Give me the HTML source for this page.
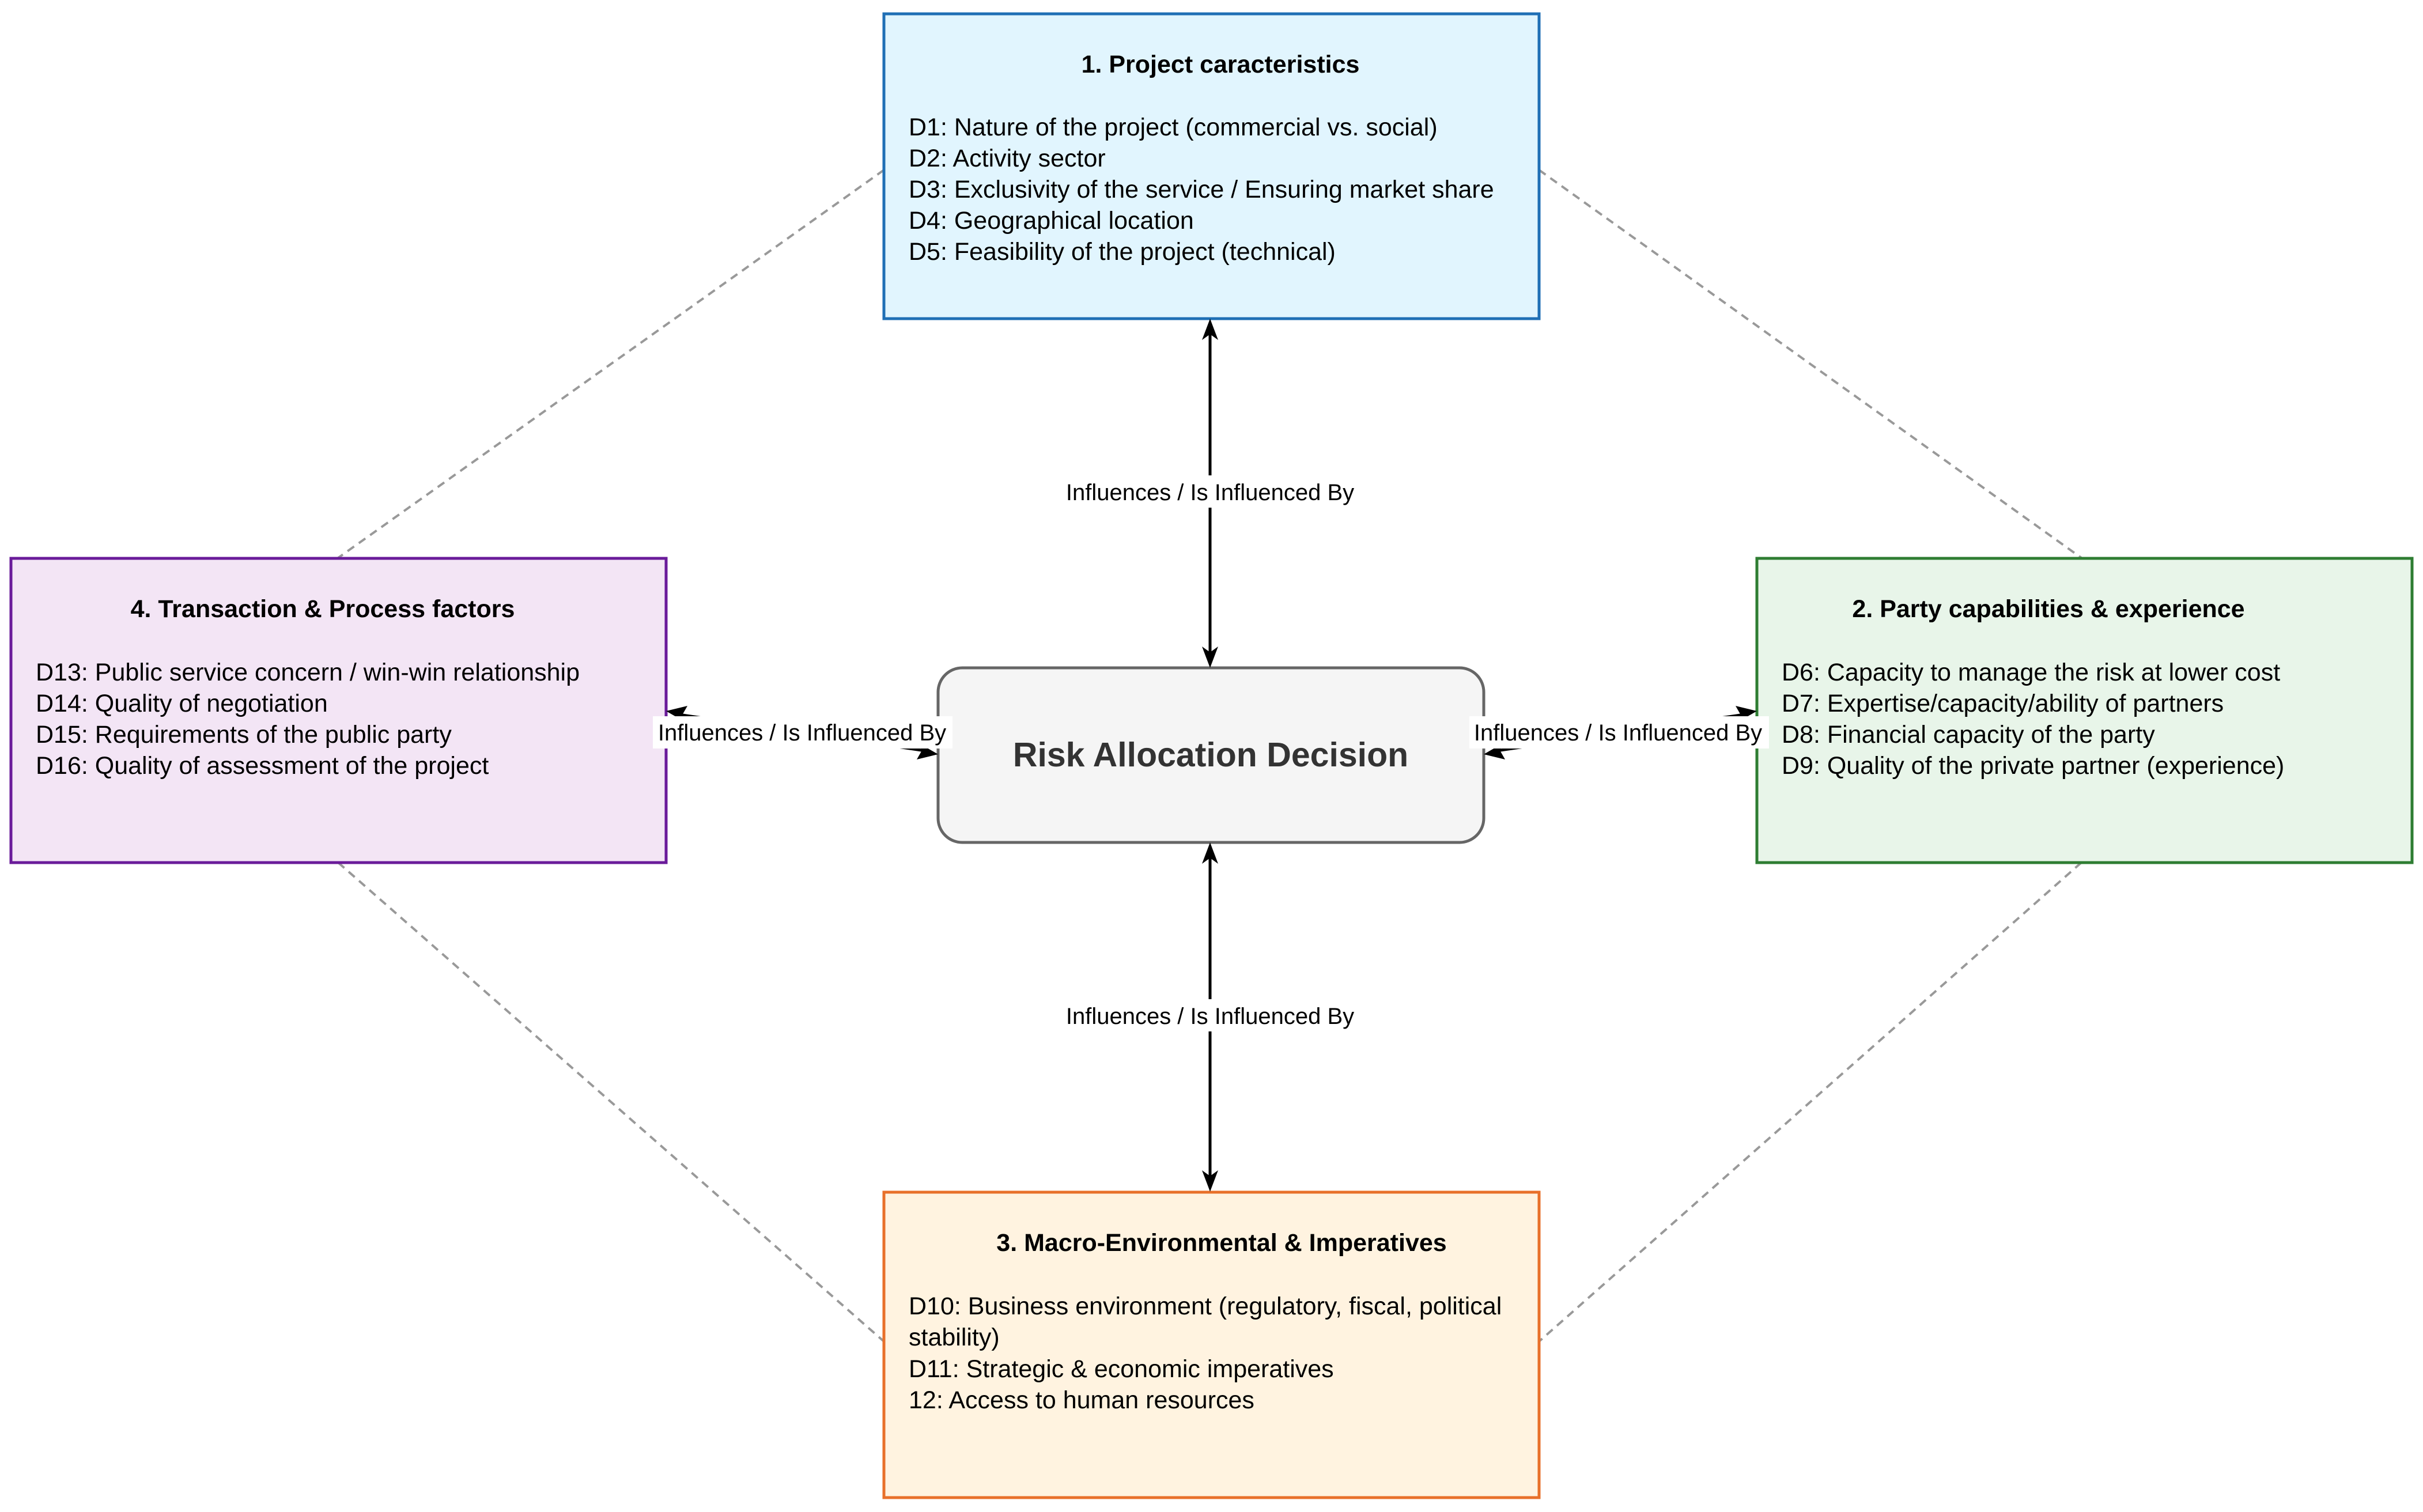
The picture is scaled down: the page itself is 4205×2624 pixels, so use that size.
<!DOCTYPE html>
<html><head><meta charset="utf-8"><style>
html,body{margin:0;padding:0;background:#fff;}
svg{display:block;}
text{font-family:"Liberation Sans",Arial,sans-serif;}
</style></head><body>
<svg width="4205" height="2624" viewBox="0 0 4205 2624" xmlns="http://www.w3.org/2000/svg">
<defs>
<marker id="ah" markerWidth="10" markerHeight="10" refX="9" refY="5" orient="auto" markerUnits="userSpaceOnUse" viewBox="0 0 10 10">
</marker>
</defs>
<rect width="4205" height="2624" fill="#fff"/>
<!-- dashed lines -->
<g stroke="#999" stroke-width="4" stroke-dasharray="14,10" fill="none">
<line x1="1534" y1="295" x2="587" y2="968"/>
<line x1="2671" y1="295" x2="3612" y2="968"/>
<line x1="587" y1="1497" x2="1534" y2="2328"/>
<line x1="3612" y1="1497" x2="2671" y2="2328"/>
</g>
<!-- boxes -->
<rect x="1534" y="24" width="1137" height="529" fill="#e1f5fe" stroke="#1f6fb5" stroke-width="5"/>
<rect x="19" y="969" width="1137" height="528" fill="#f3e5f5" stroke="#6a1b9a" stroke-width="5"/>
<rect x="3049" y="969" width="1137" height="528" fill="#e8f5e9" stroke="#2e7d32" stroke-width="5"/>
<rect x="1534" y="2069" width="1137" height="530" fill="#fff3e0" stroke="#e8702a" stroke-width="5"/>
<rect x="1628" y="1159" width="947" height="303" rx="42" fill="#f5f5f5" stroke="#666" stroke-width="5"/>
<!-- arrows -->
<g stroke="#000" stroke-width="5" fill="none">
<line x1="2100" y1="575" x2="2100" y2="1138"/>
<line x1="2100" y1="1484" x2="2100" y2="2046"/>
<line x1="1178" y1="1240" x2="1606" y2="1303"/>
<line x1="2597" y1="1303" x2="3027" y2="1240"/>
</g>
<g fill="#000">
<polygon points="2100,553 2086,590 2100,580 2114,590"/>
<polygon points="2100,1159 2086,1122 2100,1132 2114,1122"/>
<polygon points="2100,1462 2086,1499 2100,1489 2114,1499"/>
<polygon points="2100,2068 2086,2031 2100,2041 2114,2031"/>
<polygon points="1156,1234 1193,1225 1185,1239 1189,1253"/>
<polygon points="1628,1309 1591,1318 1599,1304 1595,1290"/>
<polygon points="2575,1309 2608,1290 2604,1304 2612,1318"/>
<polygon points="3049,1234 3016,1253 3020,1239 3012,1225"/>
</g>
<!-- connector labels -->
<g font-size="40" fill="#000" text-anchor="middle">
<rect x="1830" y="825" width="540" height="56" fill="#fff"/>
<text x="2100" y="868">Influences / Is Influenced By</text>
<rect x="1830" y="1734" width="540" height="56" fill="#fff"/>
<text x="2100" y="1777">Influences / Is Influenced By</text>
<rect x="1133" y="1243" width="520" height="56" fill="#fff"/>
<text x="1392" y="1285">Influences / Is Influenced By</text>
<rect x="2550" y="1243" width="520" height="56" fill="#fff"/>
<text x="2808" y="1285">Influences / Is Influenced By</text>
</g>
<text x="2101" y="1330" font-size="59" font-weight="bold" fill="#333" text-anchor="middle">Risk Allocation Decision</text>
<!-- top -->
<g font-size="43" fill="#000">
<text x="2118" y="126" font-weight="bold" text-anchor="middle">1. Project caracteristics</text>
<text x="1577" y="235">D1: Nature of the project (commercial vs. social)</text>
<text x="1577" y="289">D2: Activity sector</text>
<text x="1577" y="343">D3: Exclusivity of the service / Ensuring market share</text>
<text x="1577" y="397">D4: Geographical location</text>
<text x="1577" y="451">D5: Feasibility of the project (technical)</text>
</g>
<!-- left -->
<g font-size="43" fill="#000">
<text x="560" y="1071" font-weight="bold" text-anchor="middle">4. Transaction &amp; Process factors</text>
<text x="62" y="1181">D13: Public service concern / win-win relationship</text>
<text x="62" y="1235">D14: Quality of negotiation</text>
<text x="62" y="1289">D15: Requirements of the public party</text>
<text x="62" y="1343">D16: Quality of assessment of the project</text>
</g>
<!-- right -->
<g font-size="43" fill="#000">
<text x="3555" y="1071" font-weight="bold" text-anchor="middle">2. Party capabilities &amp; experience</text>
<text x="3092" y="1181">D6: Capacity to manage the risk at lower cost</text>
<text x="3092" y="1235">D7: Expertise/capacity/ability of partners</text>
<text x="3092" y="1289">D8: Financial capacity of the party</text>
<text x="3092" y="1343">D9: Quality of the private partner (experience)</text>
</g>
<!-- bottom -->
<g font-size="43" fill="#000">
<text x="2120" y="2171" font-weight="bold" text-anchor="middle">3. Macro-Environmental &amp; Imperatives</text>
<text x="1577" y="2281">D10: Business environment (regulatory, fiscal, political</text>
<text x="1577" y="2335">stability)</text>
<text x="1577" y="2390">D11: Strategic &amp; economic imperatives</text>
<text x="1577" y="2444">12: Access to human resources</text>
</g>
</svg>
</body></html>
